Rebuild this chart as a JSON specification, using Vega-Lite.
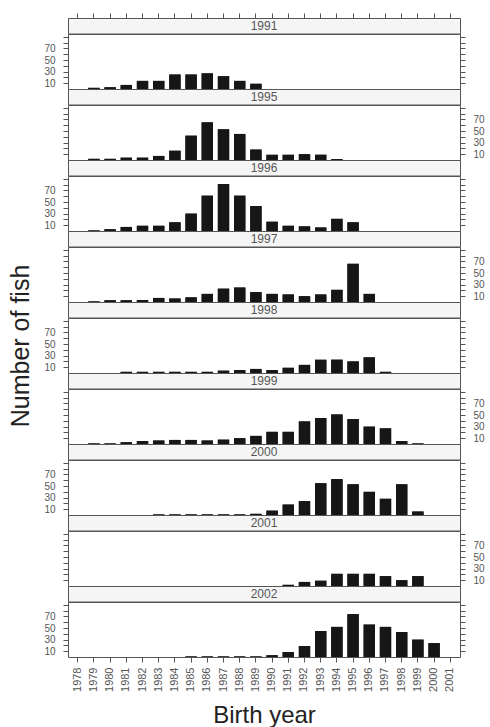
{
"$schema": "https://vega.github.io/schema/vega-lite/v6.json",
"padding": {"left": 8, "top": 12, "right": 0, "bottom": 0},
"background": "white",
"spacing": 0,
"bounds": "flush",
"datasets": {
"panels": [{"survey":1991},{"survey":1995},{"survey":1996},{"survey":1997},{"survey":1998},{"survey":1999},{"survey":2000},{"survey":2001},{"survey":2002}],
"fish": [
{"survey":1991,"birth":1979,"n":2},{"survey":1991,"birth":1980,"n":3},{"survey":1991,"birth":1981,"n":7},{"survey":1991,"birth":1982,"n":14},{"survey":1991,"birth":1983,"n":14},{"survey":1991,"birth":1984,"n":25},{"survey":1991,"birth":1985,"n":25},{"survey":1991,"birth":1986,"n":27},{"survey":1991,"birth":1987,"n":22},{"survey":1991,"birth":1988,"n":14},{"survey":1991,"birth":1989,"n":9},
{"survey":1995,"birth":1979,"n":2},{"survey":1995,"birth":1980,"n":2},{"survey":1995,"birth":1981,"n":4},{"survey":1995,"birth":1982,"n":4},{"survey":1995,"birth":1983,"n":7},{"survey":1995,"birth":1984,"n":16},{"survey":1995,"birth":1985,"n":42},{"survey":1995,"birth":1986,"n":65},{"survey":1995,"birth":1987,"n":53},{"survey":1995,"birth":1988,"n":45},{"survey":1995,"birth":1989,"n":18},{"survey":1995,"birth":1990,"n":9},{"survey":1995,"birth":1991,"n":9},{"survey":1995,"birth":1992,"n":10},{"survey":1995,"birth":1993,"n":9},{"survey":1995,"birth":1994,"n":1.5},
{"survey":1996,"birth":1979,"n":1},{"survey":1996,"birth":1980,"n":3},{"survey":1996,"birth":1981,"n":7},{"survey":1996,"birth":1982,"n":9},{"survey":1996,"birth":1983,"n":9},{"survey":1996,"birth":1984,"n":15},{"survey":1996,"birth":1985,"n":30},{"survey":1996,"birth":1986,"n":61},{"survey":1996,"birth":1987,"n":81},{"survey":1996,"birth":1988,"n":61},{"survey":1996,"birth":1989,"n":43},{"survey":1996,"birth":1990,"n":16},{"survey":1996,"birth":1991,"n":9},{"survey":1996,"birth":1992,"n":8},{"survey":1996,"birth":1993,"n":6},{"survey":1996,"birth":1994,"n":21},{"survey":1996,"birth":1995,"n":15},
{"survey":1997,"birth":1979,"n":1},{"survey":1997,"birth":1980,"n":3},{"survey":1997,"birth":1981,"n":3},{"survey":1997,"birth":1982,"n":3.5},{"survey":1997,"birth":1983,"n":7},{"survey":1997,"birth":1984,"n":6},{"survey":1997,"birth":1985,"n":8},{"survey":1997,"birth":1986,"n":14},{"survey":1997,"birth":1987,"n":23},{"survey":1997,"birth":1988,"n":25},{"survey":1997,"birth":1989,"n":17},{"survey":1997,"birth":1990,"n":14},{"survey":1997,"birth":1991,"n":13},{"survey":1997,"birth":1992,"n":10},{"survey":1997,"birth":1993,"n":13},{"survey":1997,"birth":1994,"n":21},{"survey":1997,"birth":1995,"n":66},{"survey":1997,"birth":1996,"n":14},
{"survey":1998,"birth":1981,"n":2},{"survey":1998,"birth":1982,"n":2},{"survey":1998,"birth":1983,"n":2},{"survey":1998,"birth":1984,"n":2},{"survey":1998,"birth":1985,"n":2},{"survey":1998,"birth":1986,"n":2},{"survey":1998,"birth":1987,"n":4},{"survey":1998,"birth":1988,"n":5},{"survey":1998,"birth":1989,"n":7},{"survey":1998,"birth":1990,"n":5},{"survey":1998,"birth":1991,"n":9},{"survey":1998,"birth":1992,"n":14},{"survey":1998,"birth":1993,"n":23},{"survey":1998,"birth":1994,"n":23},{"survey":1998,"birth":1995,"n":20},{"survey":1998,"birth":1996,"n":27},{"survey":1998,"birth":1997,"n":2},
{"survey":1999,"birth":1979,"n":1},{"survey":1999,"birth":1980,"n":1},{"survey":1999,"birth":1981,"n":3},{"survey":1999,"birth":1982,"n":5},{"survey":1999,"birth":1983,"n":6},{"survey":1999,"birth":1984,"n":7},{"survey":1999,"birth":1985,"n":7},{"survey":1999,"birth":1986,"n":6},{"survey":1999,"birth":1987,"n":7.5},{"survey":1999,"birth":1988,"n":10},{"survey":1999,"birth":1989,"n":14},{"survey":1999,"birth":1990,"n":21},{"survey":1999,"birth":1991,"n":21},{"survey":1999,"birth":1992,"n":39},{"survey":1999,"birth":1993,"n":45},{"survey":1999,"birth":1994,"n":51},{"survey":1999,"birth":1995,"n":43},{"survey":1999,"birth":1996,"n":30},{"survey":1999,"birth":1997,"n":27},{"survey":1999,"birth":1998,"n":5},{"survey":1999,"birth":1999,"n":1},
{"survey":2000,"birth":1983,"n":1},{"survey":2000,"birth":1984,"n":1},{"survey":2000,"birth":1985,"n":1},{"survey":2000,"birth":1986,"n":1},{"survey":2000,"birth":1987,"n":1},{"survey":2000,"birth":1988,"n":1},{"survey":2000,"birth":1989,"n":2},{"survey":2000,"birth":1990,"n":7.5},{"survey":2000,"birth":1991,"n":18},{"survey":2000,"birth":1992,"n":24},{"survey":2000,"birth":1993,"n":55},{"survey":2000,"birth":1994,"n":62},{"survey":2000,"birth":1995,"n":53},{"survey":2000,"birth":1996,"n":40},{"survey":2000,"birth":1997,"n":28},{"survey":2000,"birth":1998,"n":53},{"survey":2000,"birth":1999,"n":6},
{"survey":2001,"birth":1991,"n":2},{"survey":2001,"birth":1992,"n":7},{"survey":2001,"birth":1993,"n":9},{"survey":2001,"birth":1994,"n":21},{"survey":2001,"birth":1995,"n":21},{"survey":2001,"birth":1996,"n":21},{"survey":2001,"birth":1997,"n":17},{"survey":2001,"birth":1998,"n":10},{"survey":2001,"birth":1999,"n":17},
{"survey":2002,"birth":1985,"n":1},{"survey":2002,"birth":1986,"n":1},{"survey":2002,"birth":1987,"n":1},{"survey":2002,"birth":1988,"n":1},{"survey":2002,"birth":1989,"n":1},{"survey":2002,"birth":1990,"n":3},{"survey":2002,"birth":1991,"n":8.5},{"survey":2002,"birth":1992,"n":19},{"survey":2002,"birth":1993,"n":45},{"survey":2002,"birth":1994,"n":52},{"survey":2002,"birth":1995,"n":74},{"survey":2002,"birth":1996,"n":56},{"survey":2002,"birth":1997,"n":52},{"survey":2002,"birth":1998,"n":43},{"survey":2002,"birth":1999,"n":30},{"survey":2002,"birth":2000,"n":24}
]
},
"data": {"name": "fish"},
"vconcat": [
{"width": 392, "height": 15.5, "view": {"fill": "#f5f5f5", "stroke": "#555"}, "layer": [
 {"data": {"name": "panels"}, "transform": [{"filter": "datum.survey == 1991"}], "mark": {"type": "text", "font": "Liberation Sans", "fontSize": 12, "color": "#555"}, "encoding": {"text": {"field": "survey", "type": "nominal"}}},
 {"transform": [{"filter": "datum.survey == 1991"}], "mark": {"type": "tick", "opacity": 0}, "encoding": {"x": {"field": "birth", "type": "ordinal", "scale": {"domain": [1978,1979,1980,1981,1982,1983,1984,1985,1986,1987,1988,1989,1990,1991,1992,1993,1994,1995,1996,1997,1998,1999,2000,2001], "paddingInner": 0.3, "paddingOuter": 0.25}, "axis": {"orient": "top", "labels": false, "title": null, "tickSize": 5}}}}
]},
{"width": 392, "height": 55, "transform": [{"filter": "datum.survey == 1991"}], "resolve": {"axis": {"y": "independent"}}, "layer": [
 {"mark": "bar", "encoding": {"x": {"field": "birth", "type": "ordinal", "scale": {"domain": [1978,1979,1980,1981,1982,1983,1984,1985,1986,1987,1988,1989,1990,1991,1992,1993,1994,1995,1996,1997,1998,1999,2000,2001], "paddingInner": 0.3, "paddingOuter": 0.25}, "axis": null}, "y": {"field": "n", "type": "quantitative", "scale": {"domain": [0, 95], "nice": false}, "axis": {"orient": "left", "values": [10,20,30,40,50,60,70,80,90], "labelExpr": "datum.value <= 70 && datum.value % 20 == 10 ? datum.label : ''", "title": null}}}},
 {"mark": "bar", "encoding": {"x": {"field": "birth", "type": "ordinal", "axis": null}, "y": {"field": "n", "type": "quantitative", "axis": {"orient": "right", "values": [10,20,30,40,50,60,70,80,90], "labels": false, "title": null}}}}
]},
{"width": 392, "height": 15.5, "view": {"fill": "#f5f5f5", "stroke": "#555"}, "data": {"name": "panels"}, "transform": [{"filter": "datum.survey == 1995"}], "mark": {"type": "text", "font": "Liberation Sans", "fontSize": 12, "color": "#555"}, "encoding": {"text": {"field": "survey", "type": "nominal"}}},
{"width": 392, "height": 55, "transform": [{"filter": "datum.survey == 1995"}], "resolve": {"axis": {"y": "independent"}}, "layer": [
 {"mark": "bar", "encoding": {"x": {"field": "birth", "type": "ordinal", "scale": {"domain": [1978,1979,1980,1981,1982,1983,1984,1985,1986,1987,1988,1989,1990,1991,1992,1993,1994,1995,1996,1997,1998,1999,2000,2001], "paddingInner": 0.3, "paddingOuter": 0.25}, "axis": null}, "y": {"field": "n", "type": "quantitative", "scale": {"domain": [0, 95], "nice": false}, "axis": {"orient": "left", "values": [10,20,30,40,50,60,70,80,90], "labels": false, "title": null}}}},
 {"mark": "bar", "encoding": {"x": {"field": "birth", "type": "ordinal", "axis": null}, "y": {"field": "n", "type": "quantitative", "axis": {"orient": "right", "values": [10,20,30,40,50,60,70,80,90], "labelExpr": "datum.value <= 70 && datum.value % 20 == 10 ? datum.label : ''", "title": null}}}}
]},
{"width": 392, "height": 15.5, "view": {"fill": "#f5f5f5", "stroke": "#555"}, "data": {"name": "panels"}, "transform": [{"filter": "datum.survey == 1996"}], "mark": {"type": "text", "font": "Liberation Sans", "fontSize": 12, "color": "#555"}, "encoding": {"text": {"field": "survey", "type": "nominal"}}},
{"width": 392, "height": 55, "transform": [{"filter": "datum.survey == 1996"}], "resolve": {"axis": {"y": "independent"}}, "layer": [
 {"mark": "bar", "encoding": {"x": {"field": "birth", "type": "ordinal", "scale": {"domain": [1978,1979,1980,1981,1982,1983,1984,1985,1986,1987,1988,1989,1990,1991,1992,1993,1994,1995,1996,1997,1998,1999,2000,2001], "paddingInner": 0.3, "paddingOuter": 0.25}, "axis": null}, "y": {"field": "n", "type": "quantitative", "scale": {"domain": [0, 95], "nice": false}, "axis": {"orient": "left", "values": [10,20,30,40,50,60,70,80,90], "labelExpr": "datum.value <= 70 && datum.value % 20 == 10 ? datum.label : ''", "title": null}}}},
 {"mark": "bar", "encoding": {"x": {"field": "birth", "type": "ordinal", "axis": null}, "y": {"field": "n", "type": "quantitative", "axis": {"orient": "right", "values": [10,20,30,40,50,60,70,80,90], "labels": false, "title": null}}}}
]},
{"width": 392, "height": 15.5, "view": {"fill": "#f5f5f5", "stroke": "#555"}, "data": {"name": "panels"}, "transform": [{"filter": "datum.survey == 1997"}], "mark": {"type": "text", "font": "Liberation Sans", "fontSize": 12, "color": "#555"}, "encoding": {"text": {"field": "survey", "type": "nominal"}}},
{"width": 392, "height": 55, "transform": [{"filter": "datum.survey == 1997"}], "resolve": {"axis": {"y": "independent"}}, "layer": [
 {"mark": "bar", "encoding": {"x": {"field": "birth", "type": "ordinal", "scale": {"domain": [1978,1979,1980,1981,1982,1983,1984,1985,1986,1987,1988,1989,1990,1991,1992,1993,1994,1995,1996,1997,1998,1999,2000,2001], "paddingInner": 0.3, "paddingOuter": 0.25}, "axis": null}, "y": {"field": "n", "type": "quantitative", "scale": {"domain": [0, 95], "nice": false}, "axis": {"orient": "left", "values": [10,20,30,40,50,60,70,80,90], "labels": false, "title": null}}}},
 {"mark": "bar", "encoding": {"x": {"field": "birth", "type": "ordinal", "axis": null}, "y": {"field": "n", "type": "quantitative", "axis": {"orient": "right", "values": [10,20,30,40,50,60,70,80,90], "labelExpr": "datum.value <= 70 && datum.value % 20 == 10 ? datum.label : ''", "title": null}}}}
]},
{"width": 392, "height": 15.5, "view": {"fill": "#f5f5f5", "stroke": "#555"}, "data": {"name": "panels"}, "transform": [{"filter": "datum.survey == 1998"}], "mark": {"type": "text", "font": "Liberation Sans", "fontSize": 12, "color": "#555"}, "encoding": {"text": {"field": "survey", "type": "nominal"}}},
{"width": 392, "height": 55, "transform": [{"filter": "datum.survey == 1998"}], "resolve": {"axis": {"y": "independent"}}, "layer": [
 {"mark": "bar", "encoding": {"x": {"field": "birth", "type": "ordinal", "scale": {"domain": [1978,1979,1980,1981,1982,1983,1984,1985,1986,1987,1988,1989,1990,1991,1992,1993,1994,1995,1996,1997,1998,1999,2000,2001], "paddingInner": 0.3, "paddingOuter": 0.25}, "axis": null}, "y": {"field": "n", "type": "quantitative", "scale": {"domain": [0, 95], "nice": false}, "axis": {"orient": "left", "values": [10,20,30,40,50,60,70,80,90], "labelExpr": "datum.value <= 70 && datum.value % 20 == 10 ? datum.label : ''", "title": "Number of fish", "titleFontSize": 25, "titlePadding": 10}}}},
 {"mark": "bar", "encoding": {"x": {"field": "birth", "type": "ordinal", "axis": null}, "y": {"field": "n", "type": "quantitative", "axis": {"orient": "right", "values": [10,20,30,40,50,60,70,80,90], "labels": false, "title": null}}}}
]},
{"width": 392, "height": 15.5, "view": {"fill": "#f5f5f5", "stroke": "#555"}, "data": {"name": "panels"}, "transform": [{"filter": "datum.survey == 1999"}], "mark": {"type": "text", "font": "Liberation Sans", "fontSize": 12, "color": "#555"}, "encoding": {"text": {"field": "survey", "type": "nominal"}}},
{"width": 392, "height": 55, "transform": [{"filter": "datum.survey == 1999"}], "resolve": {"axis": {"y": "independent"}}, "layer": [
 {"mark": "bar", "encoding": {"x": {"field": "birth", "type": "ordinal", "scale": {"domain": [1978,1979,1980,1981,1982,1983,1984,1985,1986,1987,1988,1989,1990,1991,1992,1993,1994,1995,1996,1997,1998,1999,2000,2001], "paddingInner": 0.3, "paddingOuter": 0.25}, "axis": null}, "y": {"field": "n", "type": "quantitative", "scale": {"domain": [0, 95], "nice": false}, "axis": {"orient": "left", "values": [10,20,30,40,50,60,70,80,90], "labels": false, "title": null}}}},
 {"mark": "bar", "encoding": {"x": {"field": "birth", "type": "ordinal", "axis": null}, "y": {"field": "n", "type": "quantitative", "axis": {"orient": "right", "values": [10,20,30,40,50,60,70,80,90], "labelExpr": "datum.value <= 70 && datum.value % 20 == 10 ? datum.label : ''", "title": null}}}}
]},
{"width": 392, "height": 15.5, "view": {"fill": "#f5f5f5", "stroke": "#555"}, "data": {"name": "panels"}, "transform": [{"filter": "datum.survey == 2000"}], "mark": {"type": "text", "font": "Liberation Sans", "fontSize": 12, "color": "#555"}, "encoding": {"text": {"field": "survey", "type": "nominal"}}},
{"width": 392, "height": 55, "transform": [{"filter": "datum.survey == 2000"}], "resolve": {"axis": {"y": "independent"}}, "layer": [
 {"mark": "bar", "encoding": {"x": {"field": "birth", "type": "ordinal", "scale": {"domain": [1978,1979,1980,1981,1982,1983,1984,1985,1986,1987,1988,1989,1990,1991,1992,1993,1994,1995,1996,1997,1998,1999,2000,2001], "paddingInner": 0.3, "paddingOuter": 0.25}, "axis": null}, "y": {"field": "n", "type": "quantitative", "scale": {"domain": [0, 95], "nice": false}, "axis": {"orient": "left", "values": [10,20,30,40,50,60,70,80,90], "labelExpr": "datum.value <= 70 && datum.value % 20 == 10 ? datum.label : ''", "title": null}}}},
 {"mark": "bar", "encoding": {"x": {"field": "birth", "type": "ordinal", "axis": null}, "y": {"field": "n", "type": "quantitative", "axis": {"orient": "right", "values": [10,20,30,40,50,60,70,80,90], "labels": false, "title": null}}}}
]},
{"width": 392, "height": 15.5, "view": {"fill": "#f5f5f5", "stroke": "#555"}, "data": {"name": "panels"}, "transform": [{"filter": "datum.survey == 2001"}], "mark": {"type": "text", "font": "Liberation Sans", "fontSize": 12, "color": "#555"}, "encoding": {"text": {"field": "survey", "type": "nominal"}}},
{"width": 392, "height": 55, "transform": [{"filter": "datum.survey == 2001"}], "resolve": {"axis": {"y": "independent"}}, "layer": [
 {"mark": "bar", "encoding": {"x": {"field": "birth", "type": "ordinal", "scale": {"domain": [1978,1979,1980,1981,1982,1983,1984,1985,1986,1987,1988,1989,1990,1991,1992,1993,1994,1995,1996,1997,1998,1999,2000,2001], "paddingInner": 0.3, "paddingOuter": 0.25}, "axis": null}, "y": {"field": "n", "type": "quantitative", "scale": {"domain": [0, 95], "nice": false}, "axis": {"orient": "left", "values": [10,20,30,40,50,60,70,80,90], "labels": false, "title": null}}}},
 {"mark": "bar", "encoding": {"x": {"field": "birth", "type": "ordinal", "axis": null}, "y": {"field": "n", "type": "quantitative", "axis": {"orient": "right", "values": [10,20,30,40,50,60,70,80,90], "labelExpr": "datum.value <= 70 && datum.value % 20 == 10 ? datum.label : ''", "title": null}}}}
]},
{"width": 392, "height": 15.5, "view": {"fill": "#f5f5f5", "stroke": "#555"}, "data": {"name": "panels"}, "transform": [{"filter": "datum.survey == 2002"}], "mark": {"type": "text", "font": "Liberation Sans", "fontSize": 12, "color": "#555"}, "encoding": {"text": {"field": "survey", "type": "nominal"}}},
{"width": 392, "height": 55, "transform": [{"filter": "datum.survey == 2002"}], "resolve": {"axis": {"y": "independent"}}, "layer": [
 {"mark": "bar", "encoding": {"x": {"field": "birth", "type": "ordinal", "scale": {"domain": [1978,1979,1980,1981,1982,1983,1984,1985,1986,1987,1988,1989,1990,1991,1992,1993,1994,1995,1996,1997,1998,1999,2000,2001], "paddingInner": 0.3, "paddingOuter": 0.25}, "axis": {"orient": "bottom", "labelAngle": -90, "labelPadding": 5, "labelFontSize": 11, "labelOverlap": false, "title": "Birth year", "titlePadding": 12}}, "y": {"field": "n", "type": "quantitative", "scale": {"domain": [0, 95], "nice": false}, "axis": {"orient": "left", "values": [10,20,30,40,50,60,70,80,90], "labelExpr": "datum.value <= 70 && datum.value % 20 == 10 ? datum.label : ''", "title": null}}}},
 {"mark": "bar", "encoding": {"x": {"field": "birth", "type": "ordinal", "axis": {"orient": "bottom", "labelAngle": -90, "labelPadding": 5, "labelFontSize": 11, "labelOverlap": false, "title": "Birth year", "titlePadding": 12}}, "y": {"field": "n", "type": "quantitative", "axis": {"orient": "right", "values": [10,20,30,40,50,60,70,80,90], "labels": false, "title": null}}}}
]}
],
"config": {
 "view": {"stroke": "#555", "strokeWidth": 1, "fill": "white"},
 "bar": {"color": "#161616"},
 "axis": {"domain": false, "grid": false, "ticks": true, "tickColor": "#555", "tickSize": 5, "labelColor": "#555", "labelFont": "Liberation Sans", "labelFontSize": 10, "labelPadding": 8, "labelOverlap": false, "titleFont": "Liberation Sans", "titleFontWeight": "normal", "titleColor": "#222", "titleFontSize": 24}
}
}
